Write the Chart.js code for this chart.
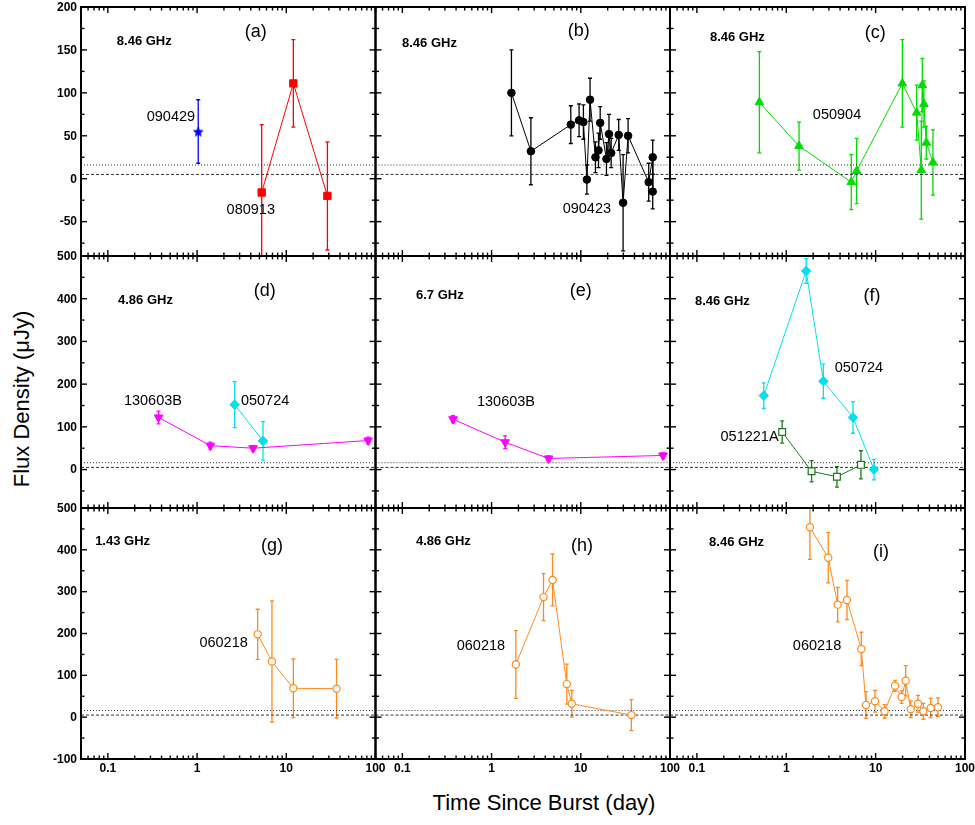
<!DOCTYPE html>
<html>
<head>
<meta charset="utf-8">
<script src="https://cdn.jsdelivr.net/npm/chart.js@4.4.1/dist/chart.umd.min.js"></script>
<style>
  body { margin: 0; background: #fff; }
  #wrap { position: relative; width: 975px; height: 825px; overflow: hidden; font-family: "Liberation Sans", Arial, sans-serif; }
  #wrap canvas { position: absolute; left: 0; top: 0; }
  .title { position: absolute; white-space: nowrap; font-size: 22px; color: #000; }
</style>
</head>
<body>
<div id="wrap">
  <div class="title" style="left:22px; top:399px; transform: translate(-50%,-50%) rotate(-90deg);">Flux Density (μJy)</div>
  <div class="title" style="left:544px; top:803px; transform: translate(-50%,-50%);">Time Since Burst (day)</div>
</div>
<script>
// ---- light curves: time (day), flux (uJy), 1-sigma error (uJy) ----
// (a) 8.46 GHz
const t090429 = [1.03];
const f090429 = [55];
const e090429 = [37];
const t080913 = [5.3, 12.0, 28.9];
const f080913 = [-16, 111, -20];
const e080913 = [79, 51, 63];
// (b) 8.46 GHz
const t090423 = [1.67, 2.76, 7.73, 9.57, 10.7, 11.7, 12.7, 14.6, 15.8, 16.5, 19.4, 20.7, 21.9, 26.6, 29.8, 33.9, 57.7, 64, 64];
const f090423 = [100, 32, 63, 68, 66, -1, 92, 25, 33, 65, 23, 52, 30, 51, -28, 50, -4, 25, -15];
const e090423 = [50, 39, 22, 19, 20, 17, 25, 18, 20, 19, 19, 23, 17, 18, 56, 20, 22, 20, 20];
// (c) 8.46 GHz
const t050904 = [0.50, 1.39, 5.34, 6.13, 19.9, 28.8, 32.4, 33.3, 34.7, 36.9, 43.8];
const f050904 = [89, 38, -4, 9, 111, 77, 10, 109, 87, 42, 19];
const e050904 = [59, 28, 32, 38, 51, 32, 57, 31, 27, 19, 38];
// (d) 4.86 GHz
const t130603B_49 = [0.37, 1.41, 4.24, 82.8];
const f130603B_49 = [122, 56, 50, 68];
const e130603B_49 = [15, 8, 6, 8];
const t050724_49 = [2.64, 5.48];
const f050724_49 = [152, 67];
const e050724_49 = [54, 45];
// (e) 6.7 GHz
const t130603B_67 = [0.37, 1.42, 4.35, 83.5];
const f130603B_67 = [118, 64, 26, 33];
const e130603B_67 = [8, 15, 6, 6];
// (f) 8.46 GHz
const t050724_85 = [0.56, 1.67, 2.60, 5.58, 9.58];
const f050724_85 = [173, 465, 207, 122, 0];
const e050724_85 = [30, 29, 40, 37, 24];
const t051221A = [0.90, 1.92, 3.69, 6.85];
const f051221A = [88, -4, -17, 11];
const e051221A = [26, 25, 24, 33];
// (g) 1.43 GHz, (h) 4.86 GHz, (i) 8.46 GHz
const t060218_14 = [4.78, 6.91, 12.0, 36.6];
const f060218_14 = [198, 133, 69, 68];
const e060218_14 = [60, 145, 70, 70];
const t060218_49 = [1.87, 3.82, 4.82, 6.97, 7.93, 36.9];
const f060218_49 = [126, 287, 328, 79, 32, 5];
const e060218_49 = [81, 56, 62, 48, 32, 37];
const t060218_85 = [1.84, 2.95, 3.76, 4.78, 6.91, 7.80, 9.84, 12.6, 16.5, 19.5, 21.7, 24.7, 29.8, 34.2, 41.3, 49.9];
const f060218_85 = [454, 381, 269, 280, 163, 29, 38, 14, 75, 48, 87, 19, 32, 14, 22, 24];
const e060218_85 = [77, 60, 41, 47, 40, 32, 26, 16, 13, 15, 36, 20, 20, 19, 23, 22];

// reference levels (uJy)
const dottedLevel = 16;
const dashedLevel = 5;

// axes
const xMin = 0.05, xMax = 100;
const xTickLabels = [0.1, 1, 10, 100];
const rowY = [[-90, 200], [-90, 500], [-100, 500]];
const rowMinorStep = [25, 50, 50];
const rowLabelStep = [50, 100, 100];

// page layout
const W = 975, H = 825;
const colEdges = [81, 375.5, 670, 965];
const rowEdges = [7, 256, 508, 759];
const FONT = "'Liberation Sans', Arial, sans-serif";

const RED = '#ff0000', BLUE = '#0000ff', BLACK = '#000000', GREEN = '#00dc00',
      MAGENTA = '#ff00ff', CYAN = '#00e1ee', DKGREEN = '#1f7a1f', ORANGE = '#ff8a1c';

function starCanvas(color, r) {
  const c = document.createElement('canvas');
  const s = Math.ceil(r * 2 + 2);
  c.width = c.height = s;
  const g = c.getContext('2d');
  g.beginPath();
  for (let i = 0; i < 10; i++) {
    const rr = i % 2 ? r * 0.45 : r;
    const ang = -Math.PI / 2 + i * Math.PI / 5;
    g.lineTo(s / 2 + rr * Math.cos(ang), s / 2 + 0.6 + rr * Math.sin(ang));
  }
  g.closePath();
  g.fillStyle = color;
  g.fill();
  return c;
}

function series(t, f, e, style) {
  return Object.assign({
    data: t.map((v, i) => ({ x: v, y: f[i] })),
    errors: e,
    borderWidth: 1,
    pointBorderWidth: 1,
    tension: 0
  }, style);
}

const filledSquare = c => ({ borderColor: c, backgroundColor: c, pointStyle: 'rect', pointRadius: 5.2 });
const filledCircle = c => ({ borderColor: c, backgroundColor: c, pointStyle: 'circle', pointRadius: 3.8 });
const upTri = c => ({ borderColor: c, backgroundColor: c, pointStyle: 'triangle', pointRadius: 5 });
const downTri = c => ({ borderColor: c, backgroundColor: c, pointStyle: 'triangle', pointRadius: 5, pointRotation: 180 });
const diamond = c => ({ borderColor: c, backgroundColor: c, pointStyle: 'rectRot', pointRadius: 4.8 });
const openSquare = c => ({ borderColor: c, backgroundColor: c, pointBackgroundColor: '#fff', pointStyle: 'rect', pointRadius: 4.8, pointBorderWidth: 1.2 });
const openCircle = c => ({ borderColor: c, backgroundColor: c, pointBackgroundColor: '#fff', pointStyle: 'circle', pointRadius: 3.6, pointBorderWidth: 1.2 });
const star = c => ({ borderColor: c, backgroundColor: c, pointStyle: starCanvas(c, 5.8), pointRadius: 5.8, showLine: false });

const panels = [
  { row: 0, col: 0, tag: '(a)', tagAt: [4.56, 171], freq: '8.46 GHz', freqAt: [0.126, 160],
    series: [series(t090429, f090429, e090429, star(BLUE)), series(t080913, f080913, e080913, filledSquare(RED))],
    notes: [['090429', 0.95, 72, 'right'], ['080913', 4.0, -36, 'center']] },
  { row: 0, col: 1, tag: '(b)', tagAt: [9.5, 172], freq: '8.46 GHz', freqAt: [0.099, 157],
    series: [series(t090423, f090423, e090423, filledCircle(BLACK))],
    notes: [['090423', 11.7, -35, 'center']] },
  { row: 0, col: 2, tag: '(c)', tagAt: [9.9, 170], freq: '8.46 GHz', freqAt: [0.14, 165],
    series: [series(t050904, f050904, e050904, upTri(GREEN))],
    notes: [['050904', 3.7, 74, 'center']] },
  { row: 1, col: 0, tag: '(d)', tagAt: [5.74, 417], freq: '4.86 GHz', freqAt: [0.13, 396],
    series: [series(t050724_49, f050724_49, e050724_49, diamond(CYAN)), series(t130603B_49, f130603B_49, e130603B_49, downTri(MAGENTA))],
    notes: [['130603B', 0.32, 160, 'center'], ['050724', 3.1, 160, 'left']] },
  { row: 1, col: 1, tag: '(e)', tagAt: [10, 417], freq: '6.7 GHz', freqAt: [0.142, 407],
    series: [series(t130603B_67, f130603B_67, e130603B_67, downTri(MAGENTA))],
    notes: [['130603B', 1.45, 158, 'center']] },
  { row: 1, col: 2, tag: '(f)', tagAt: [9.1, 407], freq: '8.46 GHz', freqAt: [0.095, 393],
    series: [series(t050724_85, f050724_85, e050724_85, diamond(CYAN)), series(t051221A, f051221A, e051221A, openSquare(DKGREEN))],
    notes: [['050724', 6.5, 238, 'center'], ['051221A', 0.82, 76, 'right']] },
  { row: 2, col: 0, tag: '(g)', tagAt: [6.9, 409], freq: '1.43 GHz', freqAt: [0.072, 421],
    series: [series(t060218_14, f060218_14, e060218_14, openCircle(ORANGE))],
    notes: [['060218', 3.7, 178, 'right']] },
  { row: 2, col: 1, tag: '(h)', tagAt: [10.3, 409], freq: '4.86 GHz', freqAt: [0.142, 421],
    series: [series(t060218_49, f060218_49, e060218_49, openCircle(ORANGE))],
    notes: [['060218', 0.76, 171, 'center']] },
  { row: 2, col: 2, tag: '(i)', tagAt: [11.5, 394], freq: '8.46 GHz', freqAt: [0.137, 418],
    series: [series(t060218_85, f060218_85, e060218_85, openCircle(ORANGE))],
    notes: [['060218', 2.21, 169, 'center']] }
];

// tick positions on the log time axis: 1..9 x each decade
const xTicks = [];
for (let d = -2; d <= 2; d++) {
  for (let m = 1; m <= 9; m++) {
    const v = +(m * Math.pow(10, d)).toPrecision(3);
    if (v >= xMin && v <= xMax) xTicks.push(v);
  }
}

// vertical error bars, drawn under the markers
const errorBarPlugin = {
  id: 'errorBars',
  beforeDatasetsDraw(chart) {
    const { ctx, chartArea: a, scales: { x, y } } = chart;
    ctx.save();
    ctx.beginPath();
    ctx.rect(a.left, a.top, a.right - a.left, a.bottom - a.top);
    ctx.clip();
    chart.data.datasets.forEach(ds => {
      if (!ds.errors) return;
      ctx.strokeStyle = ds.borderColor;
      ctx.lineWidth = 1.3;
      ds.data.forEach((p, i) => {
        const px = x.getPixelForValue(p.x);
        const lo = y.getPixelForValue(p.y - ds.errors[i]);
        const hi = y.getPixelForValue(p.y + ds.errors[i]);
        ctx.beginPath();
        ctx.moveTo(px, lo); ctx.lineTo(px, hi);
        ctx.moveTo(px - 2, lo); ctx.lineTo(px + 2, lo);
        ctx.moveTo(px - 2, hi); ctx.lineTo(px + 2, hi);
        ctx.stroke();
      });
    });
    ctx.restore();
  }
};

// box frame, inward ticks, tick labels and text
const framePlugin = {
  id: 'frame',
  afterDraw(chart, args, opts) {
    const { ctx, chartArea: a, scales: { x, y } } = chart;
    const seg = (x1, y1, x2, y2) => { ctx.beginPath(); ctx.moveTo(x1, y1); ctx.lineTo(x2, y2); ctx.stroke(); };
    ctx.save();
    ctx.strokeStyle = '#000';
    ctx.fillStyle = '#000';
    ctx.lineWidth = 1.4;
    xTicks.forEach(v => {
      const px = x.getPixelForValue(v);
      const len = Number.isInteger(Math.log10(v)) || xTickLabels.includes(v) ? 6 : 3.5;
      seg(px, a.bottom, px, a.bottom - len);
      seg(px, a.top, px, a.top + len);
    });
    const [yMin, yMax] = rowY[opts.row];
    const step = rowMinorStep[opts.row], lstep = rowLabelStep[opts.row];
    for (let v = Math.ceil(yMin / step) * step; v <= yMax; v += step) {
      const py = y.getPixelForValue(v);
      const len = v % lstep === 0 ? 6 : 3.5;
      seg(a.left, py, a.left + len, py);
      seg(a.right, py, a.right - len, py);
    }
    ctx.lineWidth = 2;
    ctx.strokeRect(a.left, a.top, a.right - a.left, a.bottom - a.top);

    ctx.font = 'bold 12px ' + FONT;
    if (opts.col === 0) {
      ctx.textAlign = 'right';
      ctx.textBaseline = 'middle';
      for (let v = Math.ceil(yMin / lstep) * lstep; v <= yMax; v += lstep) {
        ctx.fillText(String(v), a.left - 4, y.getPixelForValue(v) + 0.5);
      }
    }
    if (opts.row === 2) {
      ctx.textAlign = 'center';
      ctx.textBaseline = 'middle';
      xTickLabels.forEach(v => ctx.fillText(String(v), x.getPixelForValue(v), a.bottom + 10));
    }

    ctx.textBaseline = 'middle';
    ctx.textAlign = 'left';
    ctx.font = 'bold 13px ' + FONT;
    ctx.fillText(opts.freq, x.getPixelForValue(opts.freqAt[0]), y.getPixelForValue(opts.freqAt[1]));
    ctx.textAlign = 'center';
    ctx.font = '18px ' + FONT;
    ctx.fillText(opts.tag, x.getPixelForValue(opts.tagAt[0]), y.getPixelForValue(opts.tagAt[1]));
    ctx.font = '14.5px ' + FONT;
    opts.notes.forEach(([text, tx, ty, align]) => {
      ctx.textAlign = align;
      ctx.fillText(text, x.getPixelForValue(tx), y.getPixelForValue(ty));
    });
    ctx.restore();
  }
};

const levelLine = (level, dash) => ({
  data: [{ x: xMin, y: level }, { x: xMax, y: level }],
  borderColor: '#333',
  borderWidth: 1,
  borderDash: dash,
  pointRadius: 0
});

const wrap = document.getElementById('wrap');
panels.forEach(p => {
  const canvas = document.createElement('canvas');
  canvas.width = W;
  canvas.height = H;
  wrap.appendChild(canvas);
  new Chart(canvas, {
    type: 'line',
    data: {
      datasets: p.series.concat([levelLine(dottedLevel, [1, 2]), levelLine(dashedLevel, [3, 2])])
    },
    options: {
      responsive: false,
      animation: false,
      events: [],
      layout: {
        padding: {
          left: colEdges[p.col],
          right: W - colEdges[p.col + 1],
          top: rowEdges[p.row],
          bottom: H - rowEdges[p.row + 1]
        }
      },
      scales: {
        x: { type: 'logarithmic', min: xMin, max: xMax, display: false },
        y: { type: 'linear', min: rowY[p.row][0], max: rowY[p.row][1], display: false }
      },
      plugins: {
        legend: { display: false },
        tooltip: { enabled: false },
        frame: { row: p.row, col: p.col, tag: p.tag, tagAt: p.tagAt, freq: p.freq, freqAt: p.freqAt, notes: p.notes }
      }
    },
    plugins: [errorBarPlugin, framePlugin]
  });
});
</script>
</body>
</html>
